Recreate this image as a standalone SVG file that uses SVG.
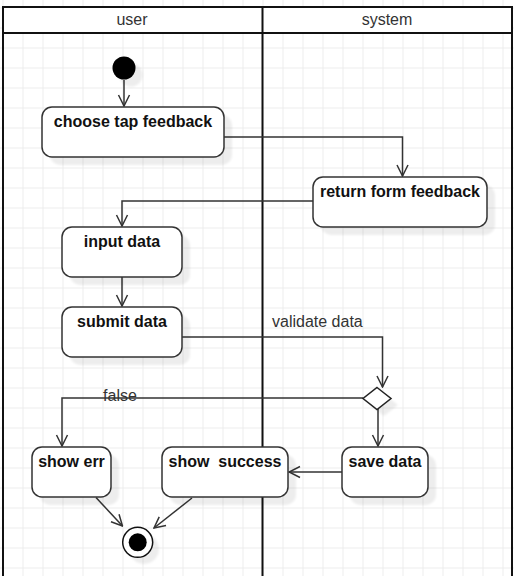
<svg xmlns="http://www.w3.org/2000/svg" width="514" height="576" viewBox="0 0 514 576">
<style>
.box{fill:#fff;stroke:#333;stroke-width:1.5}
.sh{fill:#000;fill-opacity:0.07;filter:url(#blur)}
.bt{font-family:"Liberation Sans",Arial,sans-serif;font-size:16px;font-weight:bold;fill:#111;text-anchor:middle}
.lt{font-family:"Liberation Sans",Arial,sans-serif;font-size:16px;fill:#333}
.ht{font-family:"Liberation Sans",Arial,sans-serif;font-size:16px;fill:#333;text-anchor:middle}
.c{fill:none;stroke:#333;stroke-width:1.5}
.lane{fill:none;stroke:#111;stroke-width:2}
</style>
<defs>
<pattern id="grid" width="20" height="20" patternUnits="userSpaceOnUse" x="2.5" y="7.5">
<path d="M0 0.5H20M0.5 0V20" fill="none" stroke="#ececec" stroke-width="1"/>
</pattern>
<filter id="blur" x="-10%" y="-10%" width="120%" height="120%"><feGaussianBlur stdDeviation="1.2"/></filter>
<marker id="arr" markerWidth="14" markerHeight="14" refX="0" refY="0" viewBox="-13 -7 14 14" orient="auto" markerUnits="userSpaceOnUse">
<path d="M-11 -5.5L0 0L-11 5.5" fill="none" stroke="#333" stroke-width="1.5"/>
</marker>
</defs>
<rect width="514" height="576" fill="#fff"/>
<rect width="514" height="576" fill="url(#grid)"/>
<g id="lanes">
<rect x="3" y="7" width="509" height="26" fill="#fff"/>
<rect class="lane" x="3" y="7" width="509" height="600"/>
<line class="lane" x1="3" y1="33" x2="512" y2="33"/>
<line class="lane" x1="262.5" y1="7" x2="262.5" y2="576"/>
<text class="ht" x="132" y="25">user</text>
<text class="ht" x="387" y="25">system</text>
</g>
<g id="connectors">
<path class="c" d="M124 80V106" marker-end="url(#arr)"/>
<path class="c" d="M224 137H402.5V176" marker-end="url(#arr)"/>
<path class="c" d="M313 201H122V226" marker-end="url(#arr)"/>
<path class="c" d="M122 277V306" marker-end="url(#arr)"/>
<path class="c" d="M182 337H382.5V387" marker-end="url(#arr)"/>
<text class="lt" x="272" y="327">validate data</text>
<path class="c" d="M363 398H62V446" marker-end="url(#arr)"/>
<text class="lt" x="120" y="401" text-anchor="middle">false</text>
<path class="c" d="M378 409V446" marker-end="url(#arr)"/>
<path class="c" d="M342 472H289" marker-end="url(#arr)"/>
<path class="c" d="M96 497.5L122.5 526" marker-end="url(#arr)"/>
<path class="c" d="M192 498L154 528" marker-end="url(#arr)"/>
</g>
<g id="start">
<circle class="sh" cx="131" cy="75" r="11.5"/>
<circle cx="124" cy="68" r="11.5" fill="#000"/>
</g>
<g id="choose">
<rect class="sh" x="50" y="115" width="182" height="50" rx="10"/>
<rect class="box" x="42" y="107" width="182" height="50" rx="10"/>
<text class="bt" x="133" y="127">choose tap feedback</text>
</g>
<g id="return">
<rect class="sh" x="321" y="185" width="174" height="50" rx="10"/>
<rect class="box" x="313" y="177" width="174" height="50" rx="10"/>
<text class="bt" x="400" y="197">return form feedback</text>
</g>
<g id="input">
<rect class="sh" x="70" y="235" width="120" height="50" rx="10"/>
<rect class="box" x="62" y="227" width="120" height="50" rx="10"/>
<text class="bt" x="122" y="247">input data</text>
</g>
<g id="submit">
<rect class="sh" x="70" y="315" width="120" height="50" rx="10"/>
<rect class="box" x="62" y="307" width="120" height="50" rx="10"/>
<text class="bt" x="122" y="327">submit data</text>
</g>
<g id="decision">
<path class="sh" d="M384 394L398 405L384 416L370 405Z"/>
<path d="M377 387.5L391 398.5L377 409.5L363 398.5Z" fill="#fff" stroke="#222" stroke-width="1.5"/>
</g>
<g id="showerr">
<rect class="sh" x="40" y="455" width="79" height="50" rx="10"/>
<rect class="box" x="32" y="447" width="79" height="50" rx="10"/>
<text class="bt" x="71.5" y="467">show err</text>
</g>
<g id="showsuccess">
<rect class="sh" x="170" y="455" width="126" height="50" rx="10"/>
<rect class="box" x="162" y="447" width="126" height="50" rx="10"/>
<text class="bt" x="225" y="467" xml:space="preserve">show  success</text>
</g>
<g id="savedata">
<rect class="sh" x="350" y="455" width="86" height="50" rx="10"/>
<rect class="box" x="342" y="447" width="86" height="50" rx="10"/>
<text class="bt" x="385" y="467">save data</text>
</g>
<g id="end">
<circle class="sh" cx="144" cy="549" r="15"/>
<circle cx="137.7" cy="542.3" r="15" fill="#fff" stroke="#111" stroke-width="1.5"/>
<circle cx="137.7" cy="542.3" r="9" fill="#000"/>
</g>
</svg>
